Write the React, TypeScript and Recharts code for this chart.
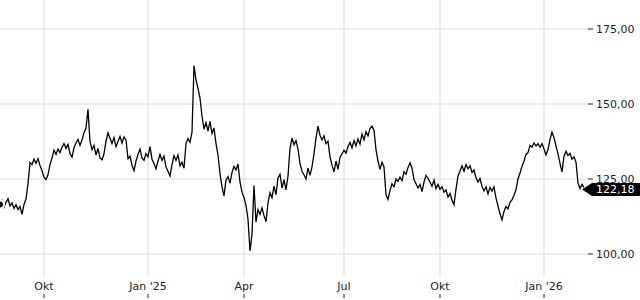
import React from "react";
import {
  Line,
  LineChart,
  ReferenceDot,
  ReferenceLine,
  XAxis,
  YAxis,
} from "recharts";

// price readings, one sample every ~1.8 calendar days
const prices: number[] = [
  116.5, 117.8, 115.6, 117.2, 118.4, 116.0, 117.0, 115.2, 116.4, 114.8,
  115.8, 113.2, 116.5, 118.3, 123.5, 130.5, 129.8, 131.6, 130.2, 131.8,
  129.5, 127.8, 125.6, 124.8, 126.4, 129.8, 132.0, 134.6, 133.2, 135.0,
  133.8, 135.6, 136.8, 135.2, 136.5, 133.5, 132.3, 135.4, 137.0, 138.2,
  136.2, 138.0, 140.4, 142.0, 148.2, 137.5, 134.8, 136.2, 133.0, 135.2,
  132.0, 131.4, 133.4, 137.5, 140.4, 138.6, 136.8, 138.8, 135.8, 137.5,
  139.2, 137.0, 139.0, 138.0, 131.8, 132.6, 129.6, 127.8, 131.0, 133.2,
  135.0, 132.0, 131.2, 133.5, 132.4, 135.8, 131.6, 130.2, 128.4, 131.0,
  133.2, 131.2, 132.6, 129.0, 127.6, 126.0, 129.8, 132.8, 131.2, 133.0,
  129.4, 130.6, 128.6, 136.8, 138.5, 137.2, 140.6, 162.8, 158.0, 155.2,
  152.0, 146.0, 141.6, 143.8, 141.0, 144.2, 140.2, 142.0, 136.8, 133.0,
  126.8, 122.4, 119.4, 124.6, 125.8, 123.6, 127.2, 129.2, 128.0, 130.0,
  124.0, 120.6, 118.8, 116.2, 111.6, 101.0, 106.5, 122.8, 110.6, 114.8,
  113.2, 115.4, 112.8, 110.8, 117.0, 120.4, 118.8, 122.6, 119.8, 125.4,
  126.6, 122.0, 124.8, 121.4, 126.0, 135.2, 138.6, 136.4, 137.8, 135.0,
  130.2, 127.6, 126.4, 125.0, 128.6, 126.2, 129.0, 133.4, 138.6, 142.6,
  139.6, 138.0, 139.4, 136.8, 137.6, 132.4, 129.6, 127.4, 131.0, 128.2,
  132.2, 133.4, 134.6, 133.6, 135.8, 137.2, 135.4, 137.8, 136.0, 138.4,
  136.6, 140.0, 138.0, 140.8, 139.4, 141.8, 142.6, 141.2, 134.8, 131.0,
  128.2, 130.6, 129.0, 119.8, 118.2, 121.2, 123.4, 122.4, 125.0, 124.2,
  125.6, 124.4, 127.4, 126.6, 128.8, 130.4, 128.6, 124.8, 123.4, 122.0,
  123.2, 120.8, 124.0, 126.2, 125.2, 124.0, 122.6, 124.6, 121.8, 123.2,
  121.6, 122.4, 120.6, 121.4, 119.0, 120.2, 118.0, 116.4, 121.6, 126.0,
  127.6, 129.4, 127.6, 129.8, 128.4, 129.4, 127.2, 128.0, 125.4, 124.0,
  125.2, 122.6, 121.0, 122.4, 120.0, 122.2, 121.0, 122.4, 118.6, 116.0,
  113.4, 111.4, 114.2, 115.8, 115.0, 117.2, 118.0, 119.6, 121.4, 125.0,
  127.0, 129.2, 131.0, 133.2, 133.8, 136.2, 135.6, 137.0, 136.0, 136.8,
  135.6, 136.8, 135.0, 133.0, 134.8, 138.2, 140.6, 138.8, 136.0, 133.4,
  130.2, 127.4, 132.6, 134.2, 132.8, 133.6, 131.6, 132.4, 130.6, 123.6,
  121.8, 123.2, 122.18,
];

// sample index where each month label sits
const tickIndex = [22, 74, 122, 172, 220, 272];
const tickLabels = ["Okt", "Jan '25", "Apr", "Jul", "Okt", "Jan '26"];
const priceTicks = [100, 125, 150, 175];

const data = prices.map((p, i) => ({ i, p }));
const last = data[data.length - 1];

const fmt = (v: number) => v.toFixed(2).replace(".", ",");

const MonthTick = (props: any) => {
  const { x, y, payload } = props;
  const k = tickIndex.indexOf(payload.value);
  return (
    <g>
      <text
        x={x}
        y={y}
        dy="0.71em"
        textAnchor="middle"
        fontSize={11}
        fontFamily="DejaVu Sans"
        fill="#222"
      >
        {tickLabels[k]}
      </text>
      <line x1={x} x2={x} y1={y + 12} y2={y + 16} stroke="#222" />
    </g>
  );
};

const LastTag = (props: any) => {
  const { cx, cy } = props;
  const c = cy + 2;
  return (
    <g>
      <polygon
        points={`${cx - 2},${c} ${cx + 8},${c - 6.5} 640,${c - 6.5} 640,${c + 6.5} ${cx + 8},${c + 6.5}`}
        fill="#000"
      />
      <text
        x={cx + 12}
        y={c}
        dominantBaseline="central"
        fontSize={11}
        fontFamily="DejaVu Sans"
        fill="#fff"
      >
        {fmt(last.p)}
      </text>
    </g>
  );
};

export default function App() {
  return (
    <div style={{ position: "absolute", left: 0, top: 0, background: "#fff" }}>
      <LineChart
        width={640}
        height={300}
        data={data}
        margin={{ top: 0, right: 0, bottom: 0, left: 0 }}
      >
        {priceTicks.map((t) => (
          <ReferenceLine key={"h" + t} y={t} stroke="#dcdcdc" />
        ))}
        {tickIndex.map((t) => (
          <ReferenceLine key={"v" + t} x={t} stroke="#dcdcdc" />
        ))}
        <XAxis
          dataKey="i"
          type="number"
          domain={[0, 294]}
          ticks={tickIndex}
          height={23}
          axisLine={false}
          tickLine={false}
          tickSize={3}
          tickMargin={2}
          tick={<MonthTick />}
          interval={0}
        />
        <YAxis
          orientation="right"
          type="number"
          domain={[92.33, 184.67]}
          ticks={priceTicks}
          width={52}
          axisLine={false}
          tickSize={5}
          tickMargin={3}
          tickFormatter={fmt}
          tick={{ fontSize: 11, fontFamily: "DejaVu Sans", fill: "#222" }}
          stroke="#222"
        />
        <Line
          type="linear"
          dataKey="p"
          stroke="#000"
          strokeWidth={1.3}
          dot={false}
          isAnimationActive={false}
        />
        <ReferenceDot
          x={last.i}
          y={last.p}
          r={0}
          ifOverflow="visible"
          shape={<LastTag />}
        />
      </LineChart>
    </div>
  );
}
